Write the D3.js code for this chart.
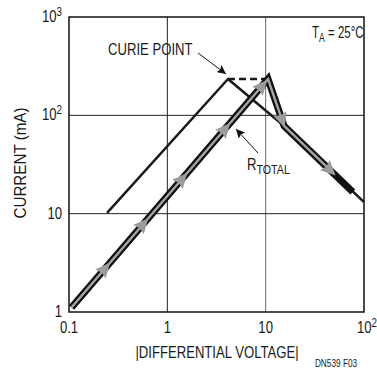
<!DOCTYPE html>
<html>
<head>
<meta charset="utf-8">
<script src="https://cdn.jsdelivr.net/npm/d3@7/dist/d3.min.js"></script>
<style>
  body { margin: 0; background: #fff; }
  svg text { font-family: "Liberation Sans", Arial, sans-serif; fill: #1a1a1a; }
</style>
</head>
<body>
<svg width="377" height="371"></svg>
<script>
// curve without R_TOTAL (thin black line)
var thinX = [0.244, 4.14, 15.4, 100];
var thinY = [10.2, 234, 78, 13.1];
// R_TOTAL curve (thick double line)
var totalX = [0.106, 10.56, 15.4, 77];
var totalY = [1.11, 234, 78, 16.6];
// direction arrows along R_TOTAL
var arrowX = [0.232, 0.566, 1.41, 3.86, 9.18, 14.7, 45];
var xTicks = [0.1, 1, 10, 100];
var yTicks = [1, 10, 100, 1000];

var svg = d3.select("svg");
var x = d3.scaleLog().domain([0.1, 100]).range([69, 364]);
var y = d3.scaleLog().domain([1, 1000]).range([312, 17]);

// narrow text: a group squeezed horizontally
function txt(px, py, size, anchor, rot, sx) {
  var g = svg.append("g")
    .attr("transform", "translate(" + px + "," + py + ")" + (rot ? " rotate(" + rot + ")" : "") + " scale(" + (sx || 0.82) + ",1)");
  return g.append("text").attr("font-size", size).attr("text-anchor", anchor || "start");
}

// grid
svg.selectAll(".vg").data([1, 10]).enter().append("line")
  .attr("x1", d => x(d)).attr("x2", d => x(d))
  .attr("y1", y(1000)).attr("y2", y(1))
  .attr("stroke", (d, i) => i == 0 ? "#222" : "#666").attr("stroke-width", 1);
svg.selectAll(".hg").data([10, 100]).enter().append("line")
  .attr("y1", d => y(d)).attr("y2", d => y(d))
  .attr("x1", x(0.1)).attr("x2", x(100))
  .attr("stroke", "#222").attr("stroke-width", 1);
svg.append("rect")
  .attr("x", x(0.1)).attr("y", y(1000))
  .attr("width", x(100) - x(0.1)).attr("height", y(1) - y(1000))
  .attr("fill", "none").attr("stroke", "#111").attr("stroke-width", 1.5);

// tick labels
function tickText(t, d) {
  if (d < 1) { t.text("0.1"); return; }
  if (d <= 10) { t.text(d); return; }
  t.text("10");
  t.append("tspan").attr("dy", -6).attr("font-size", 12).text(Math.round(Math.log10(d)));
}
yTicks.forEach(function(d) {
  tickText(txt(62, y(d) + 5, 16, "end"), d);
});
xTicks.forEach(function(d) {
  tickText(txt(x(d) + (d == 100 ? 3 : 0), 333, 16, "middle"), d);
});

// axis titles
txt(26, 163, 16, "middle", -90, 0.95).text("CURRENT (mA)");
txt(217, 358, 16, "middle").text("|DIFFERENTIAL VOLTAGE|");
txt(336, 367, 11, "middle", 0, 0.75).text("DN539 F03");

var line = d3.line().x(d => x(d[0])).y(d => y(d[1]));
var thin = thinX.map((v, i) => [v, thinY[i]]);
var total = totalX.map((v, i) => [v, totalY[i]]);

// thin curve
svg.append("path").attr("d", line(thin))
  .attr("fill", "none").attr("stroke", "#1a1a1a").attr("stroke-width", 2.5)
  .attr("stroke-linejoin", "round");
// curie point dashed
svg.append("path").attr("d", line([thin[1], total[1]]))
  .attr("fill", "none").attr("stroke", "#1a1a1a").attr("stroke-width", 2.5)
  .attr("stroke-dasharray", "7,4");

// position on total curve by x (log interpolation)
function onTotal(xv) {
  for (var i = 0; i < total.length - 1; i++) {
    var a = total[i], b = total[i + 1];
    if (xv >= a[0] && xv <= b[0]) {
      var t = (Math.log(xv) - Math.log(a[0])) / (Math.log(b[0]) - Math.log(a[0]));
      var yv = Math.exp(Math.log(a[1]) + t * (Math.log(b[1]) - Math.log(a[1])));
      var ang = Math.atan2(y(b[1]) - y(a[1]), x(b[0]) - x(a[0])) * 180 / Math.PI;
      return { i: i, p: [xv, yv], ang: ang };
    }
  }
}

// thick R_TOTAL curve
svg.append("path").attr("d", line(total))
  .attr("fill", "none").attr("stroke", "#111").attr("stroke-width", 7)
  .attr("stroke-linejoin", "miter");
var last = onTotal(arrowX[arrowX.length - 1]);
var inner = total.slice(0, last.i + 1).concat([last.p]);
svg.append("path").attr("d", line(inner))
  .attr("fill", "none").attr("stroke", "#a5a5a5").attr("stroke-width", 2.4)
  .attr("stroke-linejoin", "miter");

// arrows
svg.selectAll(".ar").data(arrowX).enter().append("path")
  .attr("d", "M8,0 L-7,-7 L-5,0 L-7,7 Z")
  .attr("fill", "#9c9c9c")
  .attr("transform", function(d) {
    var o = onTotal(d);
    return "translate(" + x(o.p[0]) + "," + y(o.p[1]) + ") rotate(" + o.ang + ")";
  });

// annotations
txt(108, 55, 16).text("CURIE POINT");
svg.append("defs").append("marker").attr("id", "ah")
  .attr("viewBox", "0 0 10 10").attr("refX", 10).attr("refY", 5)
  .attr("markerWidth", 9).attr("markerHeight", 9).attr("orient", "auto")
  .attr("markerUnits", "userSpaceOnUse")
  .append("path").attr("d", "M0,0 L10,5 L0,10 L2,5 Z").attr("fill", "#111");
svg.append("line").attr("x1", 198).attr("y1", 53).attr("x2", 226).attr("y2", 74)
  .attr("stroke", "#111").attr("stroke-width", 1).attr("marker-end", "url(#ah)");
svg.append("line").attr("x1", 258).attr("y1", 153).attr("x2", 236).attr("y2", 129)
  .attr("stroke", "#111").attr("stroke-width", 1).attr("marker-end", "url(#ah)");

var rt = txt(247, 170, 16);
rt.append("tspan").text("R");
rt.append("tspan").attr("dy", 4).attr("font-size", 13).text("TOTAL");

var ta = txt(312, 38, 16, "start", 0, 0.72);
ta.append("tspan").text("T");
ta.append("tspan").attr("dy", 4).attr("font-size", 12).text("A");
ta.append("tspan").attr("dy", -4).text(" = 25°C");
</script>
</body>
</html>
